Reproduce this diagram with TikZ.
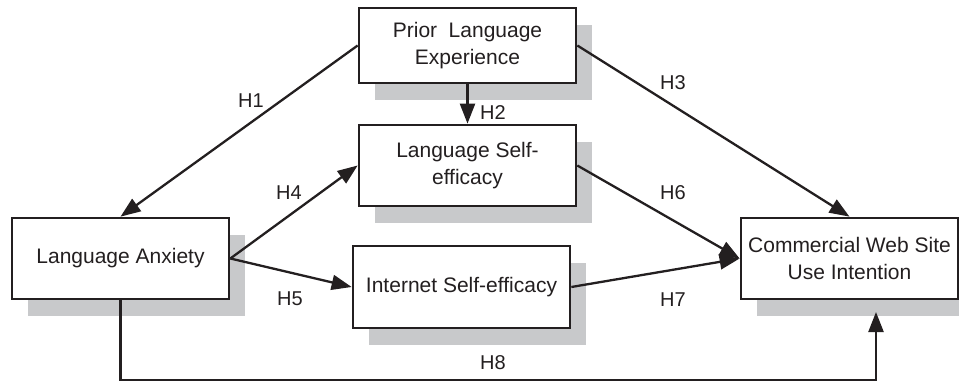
\documentclass[tikz,border=0pt]{standalone}
\usepackage{fontspec}
\setmainfont{Liberation Sans}
\usetikzlibrary{arrows.meta,shadows}
\definecolor{ink}{HTML}{231F20}
\definecolor{shade}{HTML}{C8C9CB}
\tikzset{
  model/.style={draw=ink, line width=2.7pt, fill=white, minimum width=217pt, inner sep=0pt,
    align=center, text=ink, font=\fontsize{21}{27}\selectfont,
    drop shadow={shadow xshift=16pt, shadow yshift=-17pt, fill=shade, opacity=1}},
  link/.style={draw=ink, line width=2.3pt, -{Triangle[length=20pt,width=15pt]}},
  hlab/.style={text=ink, font=\fontsize{20}{24}\selectfont, inner sep=0pt}
}
\begin{document}
\begin{tikzpicture}[x=1pt,y=-1pt]
\useasboundingbox (0,0) rectangle (959,382);
\node[model, minimum height=75pt] (prior) at (467.5,45.5) {Prior\hspace{0.55em}Language\\Experience};
\node[model, minimum height=81pt] (lse) at (467.5,165.5) {Language Self-\\efficacy};
\node[model, minimum height=81pt] (anx) at (120.5,258.5) {Language Anxiety};
\node[model, minimum height=82pt] (ise) at (461.5,287) {Internet Self-efficacy};
\node[model, minimum height=81pt] (cwu) at (849.5,258.5) {Commercial Web Site\\Use Intention};
\coordinate (corner) at (876,380);
\coordinate (h8end) at (876,312);
\draw[link] (prior.west) -- (anx.north);
\draw[link] (prior.south) -- (lse.north);
\draw[link] (prior.east) -- (cwu.north);
\draw[link] (anx.east) -- (lse.west);
\draw[link] (anx.east) -- (ise.west);
\draw[link] (lse.east) -- (cwu.west);
\draw[link] (ise.east) -- (cwu.west);
\draw[link] (anx.south) |- (corner) -- (h8end);
\node[hlab] (l1) at (251,101) {H1};
\node[hlab] (l2) at (493,113) {H2};
\node[hlab] (l3) at (673,83) {H3};
\node[hlab] (l4) at (289,193) {H4};
\node[hlab] (l5) at (290,299) {H5};
\node[hlab] (l6) at (673,193) {H6};
\node[hlab] (l7) at (673,300) {H7};
\node[hlab] (l8) at (493,363) {H8};
\end{tikzpicture}
\end{document}
